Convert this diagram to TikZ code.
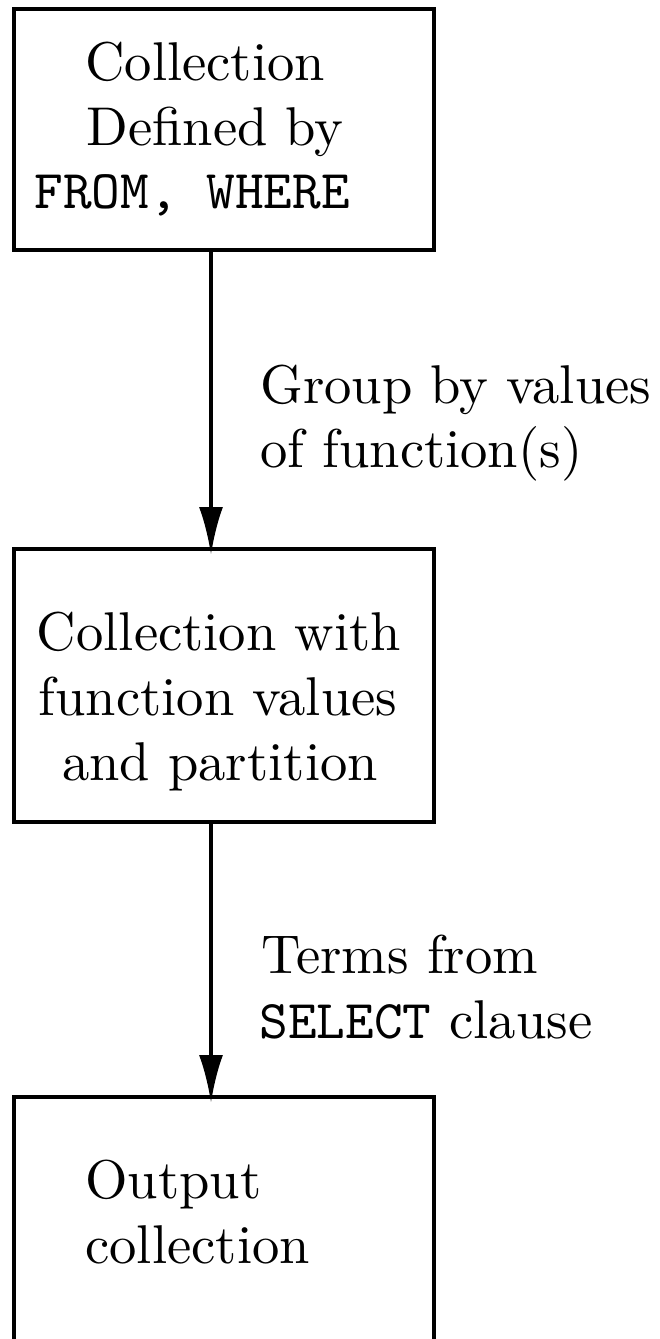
\documentclass[tikz,border=0pt]{standalone}
\usepackage{fontspec}
\setmainfont{lmroman10-regular.otf}
\setmonofont{lmmono10-regular.otf}
\usetikzlibrary{arrows.meta}
\begin{document}
\begin{tikzpicture}[x=0.5pt,y=-0.5pt,
  box/.style={draw,line width=2pt,rectangle,inner sep=0pt,minimum width=210pt},
  txt/.style={inner sep=0pt,font=\fontsize{27.3}{32.5}\selectfont},
  arr/.style={line width=2pt,-{Latex[length=24pt,width=12pt]},shorten >=-4pt}]
\useasboundingbox (0,0) rectangle (659,1339);
\clip (0,0) rectangle (659,1339);
\node[box,minimum height=120.5pt] (b1) at (223.5,129.5) {};
\node[box,minimum height=136.5pt] (b2) at (223.5,685.5) {};
\node[box,minimum height=153pt] (b3) at (223.5,1250) {};
% box 1 text
\node[txt,anchor=base west] (t11) at (85,80) {Collection};
\node[txt,anchor=base west] (t12) at (86,145) {Defined by};
\node[txt,anchor=base west] (t13) at (34,208) {\texttt{FROM, WHERE}};
% box 2 text
\node[txt,anchor=base] (t21) at (219,650) {Collection with};
\node[txt,anchor=base] (t22) at (218,715) {function values};
\node[txt,anchor=base] (t23) at (220,780) {and partition};
% box 3 text
\node[txt,anchor=base west] (t31) at (85,1198) {Output};
\node[txt,anchor=base west] (t32) at (85,1263) {collection};
% labels
\node[txt,anchor=base west] (l11) at (260,403) {Group by values};
\node[txt,anchor=base west] (l12) at (260,467) {of function(s)};
\node[txt,anchor=base west] (l21) at (261,973) {Terms from};
\node[txt,anchor=base west] (l22) at (259,1038) {\texttt{SELECT} clause};
% arrows
\draw[arr] ([xshift=-6.25pt]b1.south) -- ([xshift=-6.25pt]b2.north);
\draw[arr] ([xshift=-6.25pt]b2.south) -- ([xshift=-6.25pt]b3.north);
\end{tikzpicture}
\end{document}
